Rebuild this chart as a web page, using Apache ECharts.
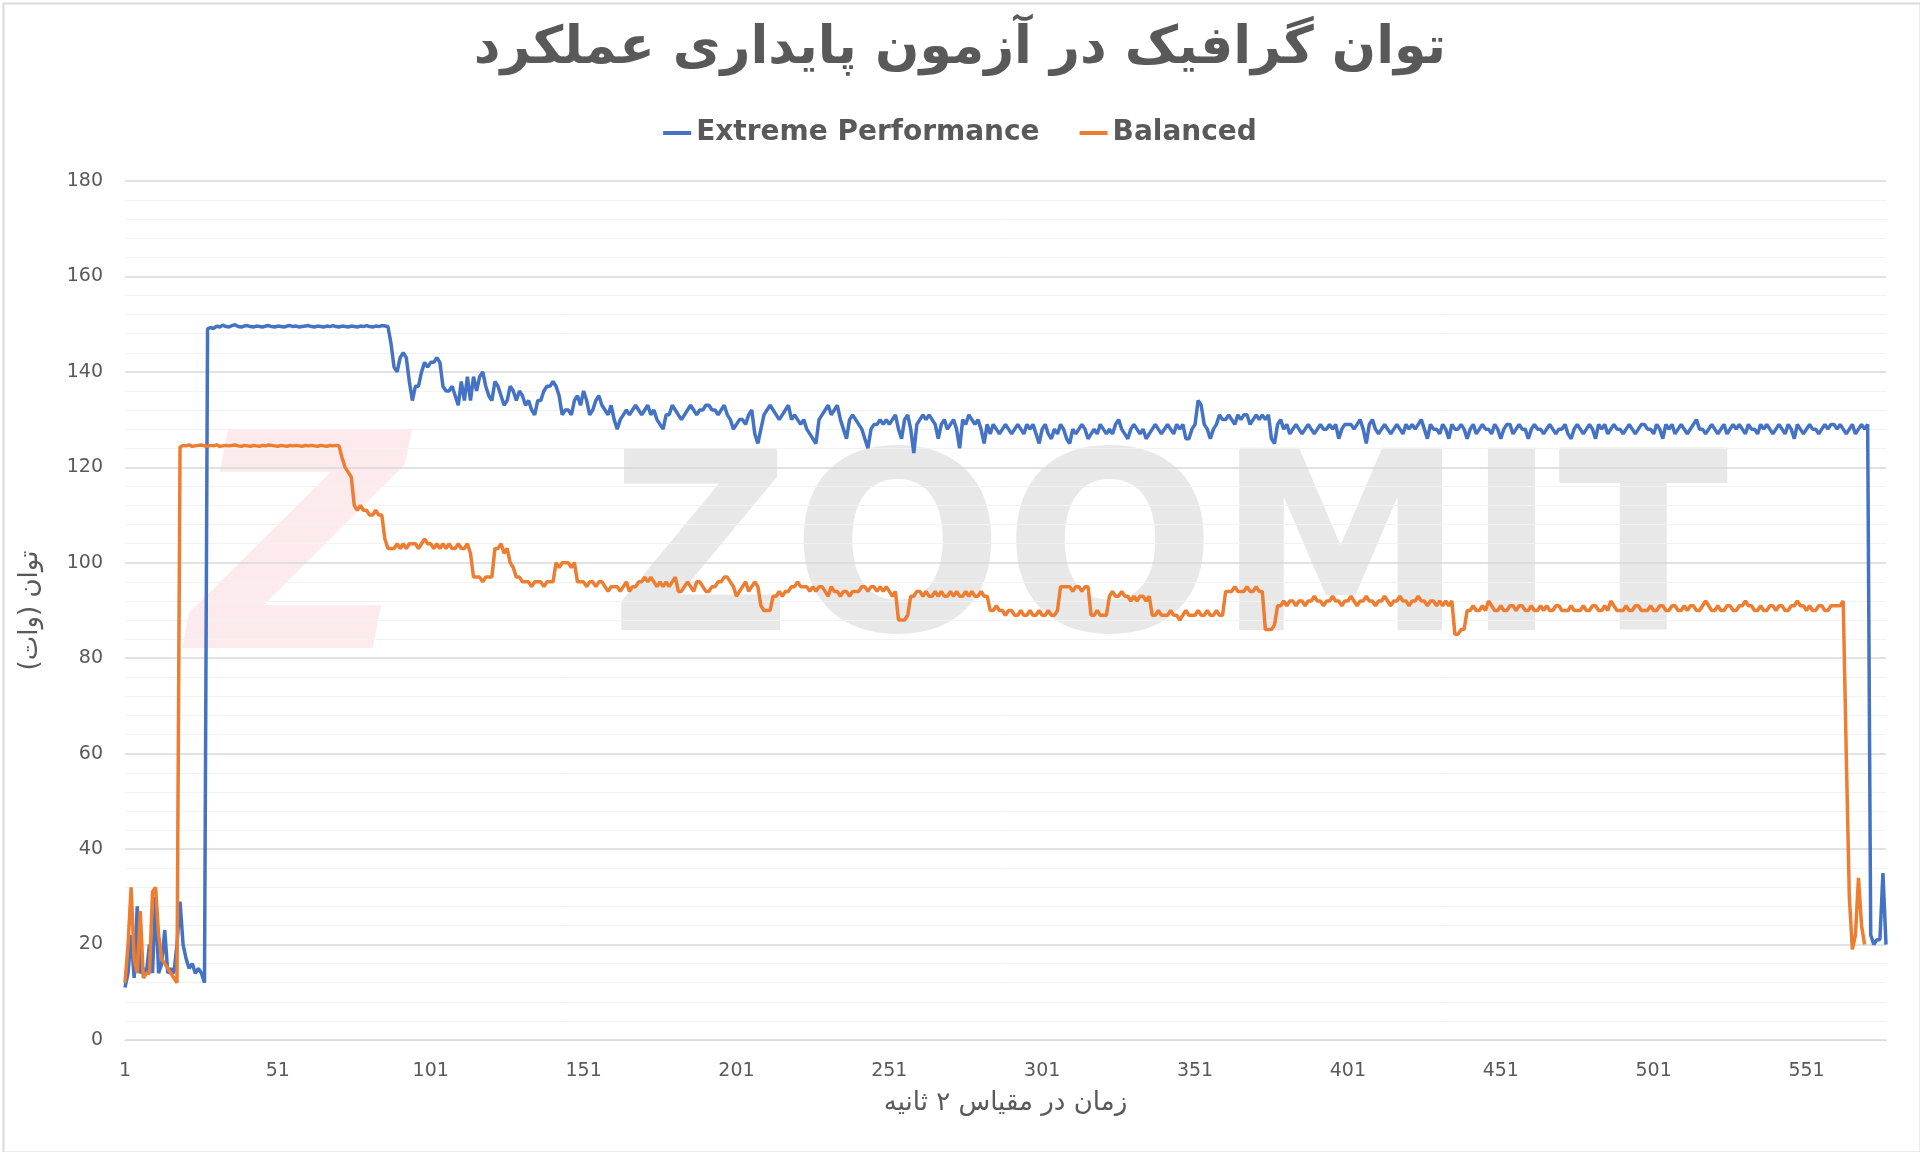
<!DOCTYPE html>
<html lang="fa">
<head>
<meta charset="UTF-8">
<title>توان گرافیک</title>
<style>
  html, body { margin: 0; padding: 0; background: #fff; }
  #main { width: 1920px; height: 1152px; }
</style>
</head>
<body>
<div id="main"></div>
<script src="https://cdn.jsdelivr.net/npm/echarts@6/dist/echarts.min.js"></script>
<script>
var extreme = [
  11,14,22,13,28,14,15,14,20,14,30,14,16,23,14,15,14,20,29,20,
  17,15,16,14,15,14,12,149,149.3,149.1,149.6,149.4,149.8,149.5,149.4,149.7,149.9,149.5,149.4,149.6,
  149.7,149.5,149.4,149.6,149.5,149.4,149.6,149.7,149.5,149.4,149.6,149.5,149.4,149.6,149.7,149.5,149.6,149.4,149.5,149.6,
  149.7,149.5,149.4,149.6,149.5,149.4,149.6,149.5,149.7,149.5,149.4,149.6,149.5,149.4,149.6,149.5,149.4,149.6,149.5,149.7,
  149.5,149.4,149.6,149.5,149.7,149.6,149.5,146,141,140,143,144,143,138,134,137,137,140,142,141,
  142,142,143,142,137,136,136,137,135,133,138,134,139,134,139,136,139,140,137,135,
  134,138,137,135,133,134,137,136,134,136,135,133,134,132,131,134,134,136,137,137,
  138,137,135,131,132,132,131,134,135,133,136,134,131,132,134,135,133,132,131,133,
  130,128,130,131,132,131,132,133,132,131,132,133,131,132,130,129,128,131,131,133,
  132,131,130,131,132,133,132,131,132,132,133,133,132,132,131,132,133,131,130,128,
  129,130,130,129,131,132,127,125,128,131,132,133,132,131,130,131,132,133,130,131,
  130,129,130,128,127,126,125,130,131,132,133,131,132,133,130,128,126,130,131,130,
  129,128,126,124,128,129,129,130,129,130,129,130,131,128,126,130,131,128,123,129,
  130,131,130,131,130,129,126,129,130,128,129,130,128,124,130,129,131,130,129,130,
  128,125,129,127,129,128,127,128,129,128,127,128,129,128,127,129,128,129,127,125,
  128,129,127,126,128,127,129,128,126,125,128,127,128,129,128,126,127,128,127,129,
  128,127,128,127,129,130,128,127,126,128,129,128,127,128,126,127,128,129,128,127,
  128,129,128,127,129,128,129,126,126,128,129,134,133,129,128,126,128,129,131,130,
  130,131,130,129,131,130,131,131,129,130,131,130,131,130,131,126,125,129,130,128,
  129,127,128,129,128,127,128,129,128,127,128,129,128,128,129,128,129,126,128,129,
  129,129,128,129,130,128,125,129,130,128,127,128,129,128,127,128,129,128,127,129,
  128,129,128,129,130,128,126,129,128,128,127,129,128,126,129,128,128,129,128,126,
  128,129,127,128,129,128,128,127,129,128,126,128,129,129,127,128,129,128,128,126,
  128,129,128,128,127,128,129,128,127,128,128,129,127,126,128,129,128,127,128,129,
  128,126,129,128,129,127,128,129,128,128,127,128,129,128,127,128,129,129,128,128,
  127,129,128,126,129,128,129,127,128,129,128,127,128,129,130,128,128,127,128,129,
  128,127,128,129,127,128,129,128,129,128,127,129,128,128,127,129,128,129,128,127,
  128,129,128,127,129,128,126,129,128,127,128,129,128,128,127,128,129,128,129,129,
  128,129,128,127,128,129,127,128,129,128,129,
  22,20,21,21,35,20
];

var balanced = [
  12,20,32,17,14,27,13,14,14,31,32,22,17,16,15,14,13,12,
  124.2,124.6,124.5,124.7,124.4,124.5,124.6,124.7,124.5,124.4,124.6,124.5,124.7,124.4,124.5,124.6,124.5,124.6,124.7,124.5,124.4,124.6,
  124.5,124.4,124.6,124.5,124.4,124.6,124.5,124.7,124.6,124.5,124.4,124.6,124.5,124.4,124.6,124.5,124.6,124.5,124.4,124.6,
  124.5,124.6,124.5,124.4,124.6,124.5,124.4,124.6,124.5,124.6,124.5,122,120,119,118,112,111,112,111,111,
  110,110,111,110,110,105,103,103,103,104,103,104,103,104,104,104,103,104,105,104,
  104,103,104,103,104,103,104,103,103,104,103,103,104,102,97,97,97,96,97,97,
  97,103,103,104,102,103,100,99,97,97,96,96,96,95,96,96,96,95,96,96,
  96,100,99,100,100,100,99,100,96,96,96,95,96,96,95,96,96,95,94,95,
  95,95,94,95,96,94,95,95,96,96,97,96,97,96,95,96,95,96,95,96,
  97,94,94,95,96,95,94,96,96,95,94,94,95,95,96,96,97,97,96,95,
  93,94,95,96,94,95,96,95,91,90,90,90,93,93,94,93,94,94,95,95,
  96,95,95,95,94,95,94,95,95,94,93,95,94,94,93,94,94,93,94,94,
  94,95,95,94,95,95,94,95,94,95,94,93,94,88,88,88,89,93,93,94,
  94,93,94,93,93,94,93,94,93,93,94,93,94,93,93,94,93,94,93,93,
  94,93,93,90,90,91,90,90,89,90,90,89,89,90,89,89,90,89,89,90,
  89,89,90,89,89,90,95,95,95,95,94,95,95,94,95,95,89,89,90,89,
  89,89,93,94,93,93,94,93,93,92,93,92,93,93,92,93,89,89,90,89,
  89,89,90,89,89,88,89,90,89,89,89,90,89,89,90,89,89,90,89,89,
  94,94,94,95,94,94,94,95,94,94,95,94,94,86,86,86,87,91,91,92,
  91,92,92,91,92,92,91,92,92,93,92,92,91,92,92,93,92,92,91,92,
  92,93,92,91,92,92,93,92,92,91,92,92,93,92,91,92,92,93,92,92,
  91,92,92,93,92,92,91,92,92,91,92,91,92,91,92,85,85,86,86,90,
  90,91,90,90,91,90,92,91,90,90,91,90,90,91,91,90,91,91,90,90,
  91,90,90,91,90,91,90,90,91,91,90,90,90,91,90,90,90,91,90,90,
  91,91,90,90,91,90,92,91,90,90,90,91,90,90,91,91,90,90,90,91,
  90,90,91,91,90,90,91,91,90,90,91,90,91,91,90,90,91,92,91,90,
  90,91,90,90,91,91,90,90,91,91,92,91,91,90,90,91,90,90,91,91,
  90,91,91,90,90,91,91,92,91,91,90,91,90,90,91,91,90,90,91,91,
  91,91,92,60,30,19,22,34,24,20
];

var seriesNames = ['Extreme Performance', 'Balanced'];
var seriesColors = ['#4472c4', '#ed7d31'];

var categories = [];
for (var i = 1; i <= extreme.length; i++) {
    categories.push(String(i));
}

var myChart = echarts.init(document.getElementById('main'));
var font = "'DejaVu Sans', 'Noto Sans', sans-serif";

var option = {
    backgroundColor: '#fff',
    animation: false,
    textStyle: { fontFamily: font },
    title: {
        text: 'توان گرافیک در آزمون پایداری عملکرد',
        left: 'center',
        top: 18,
        textStyle: { fontSize: 52, fontWeight: 'bold', color: '#595959', fontFamily: font }
    },
    legend: {
        top: 114,
        left: 'center',
        itemWidth: 28,
        itemHeight: 4,
        itemGap: 40,
        icon: 'rect',
        textStyle: { fontSize: 28, color: '#595959', fontWeight: 'bold', fontFamily: font },
        data: seriesNames
    },
    graphic: [
        {
            type: 'rect', left: 1, top: 1,
            shape: { width: 1917, height: 1149 },
            style: { fill: 'none', stroke: '#d9d9d9', lineWidth: 2 }, z: -1
        },
        {
            type: 'text', left: 610, top: 440, z: -1,
            style: { text: 'ZOOMIT', font: 'bold 250px ' + font, fill: 'rgba(190,190,190,0.35)' }
        },
        {
            type: 'text', left: 190, top: 420, z: -1,
            style: { text: 'Z', font: 'italic bold 300px ' + font, fill: 'rgba(240,150,160,0.2)' }
        }
    ],
    grid: {
        left: 125,
        right: 34,
        top: 181,
        bottom: 112
    },
    xAxis: {
        type: 'category',
        boundaryGap: false,
        data: categories,
        name: 'زمان در مقیاس ۲ ثانیه',
        nameLocation: 'middle',
        nameGap: 50,
        nameTextStyle: { fontSize: 26, color: '#595959' },
        axisLine: { lineStyle: { color: '#d9d9d9' } },
        axisTick: { show: false },
        axisLabel: { interval: 49, fontSize: 19, color: '#595959', margin: 22 },
        splitLine: { show: false }
    },
    yAxis: {
        type: 'value',
        min: 0,
        max: 180,
        interval: 20,
        name: 'توان (وات)',
        nameLocation: 'middle',
        nameGap: 82,
        nameRotate: 90,
        nameTextStyle: { fontSize: 26, color: '#595959' },
        axisLine: { show: false },
        axisTick: { show: false },
        axisLabel: { fontSize: 19, color: '#595959', margin: 22 },
        splitLine: { lineStyle: { color: '#d9d9d9', width: 1.5 } },
        minorTick: { show: false, splitNumber: 5 },
        minorSplitLine: { show: true, lineStyle: { color: '#f2f2f2', width: 1 } }
    },
    series: [
        {
            name: seriesNames[0],
            type: 'line',
            data: extreme,
            symbol: 'none',
            color: seriesColors[0],
            lineStyle: { width: 3.5, color: seriesColors[0] }
        },
        {
            name: seriesNames[1],
            type: 'line',
            data: balanced,
            symbol: 'none',
            color: seriesColors[1],
            lineStyle: { width: 3.5, color: seriesColors[1] }
        }
    ]
};

myChart.setOption(option);
</script>
</body>
</html>
